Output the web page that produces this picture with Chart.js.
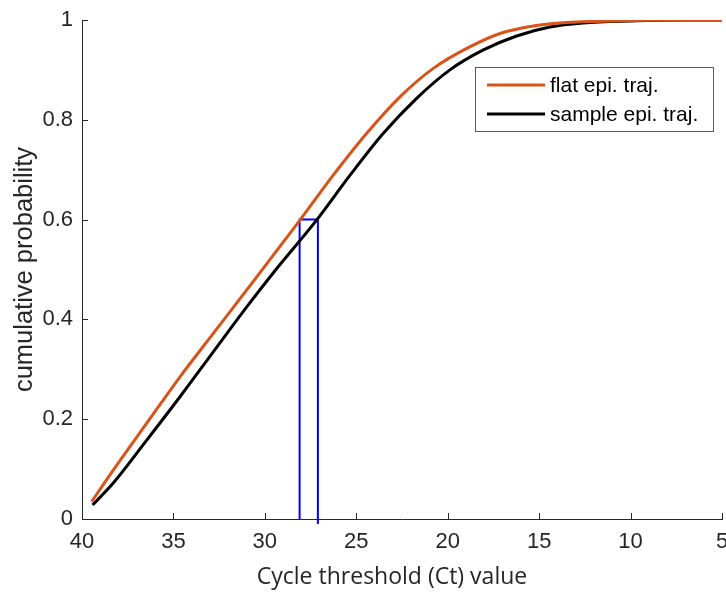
<!DOCTYPE html>
<html>
<head>
<meta charset="utf-8">
<script src="https://cdn.jsdelivr.net/npm/chart.js@4.4.1/dist/chart.umd.min.js"></script>
<style>
  body { margin: 0; background: #fff; }
  #wrap { width: 726px; height: 592px; }
</style>
</head>
<body>
<div id="wrap"><canvas id="myChart" width="726" height="592"></canvas></div>
<script>
// Ct value (x) and cumulative probability (y)
var flatCt   = [39.47, 38.29, 36.46, 34.64, 32.82, 30.99, 28.08, 26.26, 24.43, 22.61, 20.79, 18.96, 17.14, 15.32, 13.49, 11.0, 8.0, 5.0];
var flatProb = [0.035, 0.098, 0.192, 0.285, 0.372, 0.459, 0.599, 0.689, 0.773, 0.846, 0.903, 0.943, 0.973, 0.988, 0.995, 0.998, 1.0, 1.0];

var sampleCt   = [39.42, 38.29, 36.46, 34.64, 32.82, 30.99, 29.35, 27.17, 25.34, 23.52, 21.70, 19.88, 18.05, 16.23, 14.41, 12.60, 10.0, 7.0, 5.0];
var sampleProb = [0.028, 0.072, 0.158, 0.245, 0.335, 0.425, 0.502, 0.599, 0.689, 0.773, 0.843, 0.900, 0.940, 0.968, 0.986, 0.994, 0.998, 1.0, 1.0];

// blue guide marking where each curve reaches 0.6
var guideCt   = [28.1, 28.1, 27.1, 27.1];
var guideProb = [0, 0.6, 0.6, -0.01];

var xTicks = [40, 35, 30, 25, 20, 15, 10, 5];
var yTicks = [0, 0.2, 0.4, 0.6, 0.8, 1];

var xTitle = 'Cycle threshold (Ct) value';

function pts(xs, ys) {
    return xs.map(function (x, i) { return { x: x, y: ys[i] }; });
}

var axisColor = '#262626';

// ticks pointing into the plot, like the original figure
var innerTicks = {
    id: 'innerTicks',
    afterDatasetsDraw: function (chart) {
        var c = chart.ctx, a = chart.chartArea;
        var xs = chart.scales.x, ys = chart.scales.y;
        c.save();
        c.strokeStyle = axisColor;
        c.lineWidth = 1;
        c.beginPath();
        xTicks.forEach(function (v) {
            var px = Math.round(xs.getPixelForValue(v)) + 0.5;
            c.moveTo(px, a.bottom);
            c.lineTo(px, a.bottom - 6);
        });
        yTicks.forEach(function (v) {
            var py = Math.round(ys.getPixelForValue(v)) + 0.5;
            c.moveTo(a.left, py);
            c.lineTo(a.left + 6, py);
        });
        c.stroke();
        c.restore();
    }
};

// x title sits a little left of the axis centre in the original
var xTitlePlugin = {
    id: 'xTitlePlugin',
    afterDraw: function (chart) {
        var c = chart.ctx;
        c.save();
        c.font = '23px "Open Sans", sans-serif';
        c.fillStyle = axisColor;
        c.textAlign = 'center';
        c.textBaseline = 'middle';
        c.fillText(xTitle, 392, 577);
        c.restore();
    }
};

// boxed legend in the upper right of the plot
var boxLegend = {
    id: 'boxLegend',
    afterDraw: function (chart) {
        var c = chart.ctx;
        var x0 = 475, y0 = 67, w = 238, h = 64;
        c.save();
        c.fillStyle = '#fff';
        c.fillRect(x0, y0, w, h);
        c.strokeStyle = '#5a5a5a';
        c.lineWidth = 1;
        c.strokeRect(x0 + 0.5, y0 + 0.5, w, h);
        c.font = '21px "Liberation Sans", Arial, sans-serif';
        c.textBaseline = 'middle';
        c.fillStyle = '#000';
        [0, 1].forEach(function (i) {
            var ds = chart.data.datasets[i];
            var yy = y0 + 18 + i * 29;
            c.strokeStyle = ds.borderColor;
            c.lineWidth = 3;
            c.beginPath();
            c.moveTo(487, yy);
            c.lineTo(545, yy);
            c.stroke();
            c.fillText(ds.label, 550, yy + 1);
        });
        c.restore();
    }
};

var ctx = document.getElementById('myChart').getContext('2d');
var myChart = new Chart(ctx, {
    type: 'line',
    data: {
        datasets: [{
            label: 'flat epi. traj.',
            data: pts(flatCt, flatProb),
            borderColor: '#D95319',
            borderWidth: 3,
            pointRadius: 0,
            cubicInterpolationMode: 'monotone'
        },
        {
            label: 'sample epi. traj.',
            data: pts(sampleCt, sampleProb),
            borderColor: '#000000',
            borderWidth: 3,
            pointRadius: 0,
            cubicInterpolationMode: 'monotone'
        },
        {
            label: 'guide',
            data: pts(guideCt, guideProb),
            borderColor: '#0000FF',
            borderWidth: 2,
            pointRadius: 0,
            tension: 0,
            clip: false
        }]
    },
    options: {
        responsive: false,
        animation: false,
        layout: { padding: { top: 20, right: 4, left: 0, bottom: 0 } },
        plugins: {
            legend: { display: false },
            tooltip: { enabled: false }
        },
        scales: {
            x: {
                type: 'linear',
                reverse: true,
                min: 5,
                max: 40,
                afterBuildTicks: function (s) {
                    s.ticks = xTicks.map(function (v) { return { value: v }; });
                },
                afterFit: function (s) {
                    s.height = 73;
                    s.paddingLeft = 0;
                    s.paddingRight = 0;
                },
                grid: { display: false, drawTicks: false },
                border: { display: true, color: axisColor, width: 1 },
                ticks: {
                    color: axisColor,
                    padding: 10,
                    maxRotation: 0,
                    autoSkip: false,
                    font: { family: '"Liberation Sans", Arial, sans-serif', size: 22 }
                }
            },
            y: {
                type: 'linear',
                min: 0,
                max: 1,
                afterBuildTicks: function (s) {
                    s.ticks = yTicks.map(function (v) { return { value: v }; });
                },
                afterFit: function (s) {
                    s.width = 82;
                    s.paddingTop = 0;
                    s.paddingBottom = 0;
                },
                grid: { display: false, drawTicks: false },
                border: { display: true, color: axisColor, width: 1 },
                ticks: {
                    color: axisColor,
                    padding: 9,
                    font: { family: '"Liberation Sans", Arial, sans-serif', size: 22 },
                    callback: function (v) { return String(Math.round(v * 10) / 10); }
                },
                title: {
                    display: true,
                    text: 'cumulative probability',
                    color: axisColor,
                    padding: { top: 10, bottom: 0 },
                    font: { family: '"Liberation Sans", Arial, sans-serif', size: 25.5 }
                }
            }
        }
    },
    plugins: [innerTicks, boxLegend, xTitlePlugin]
});
</script>
</body>
</html>
